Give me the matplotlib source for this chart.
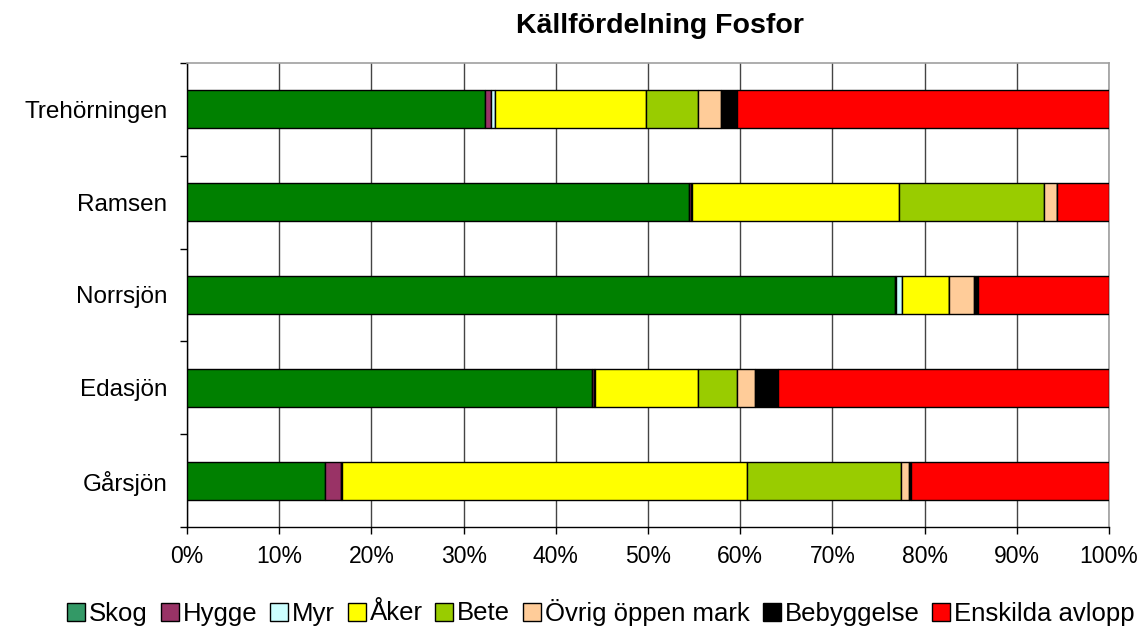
import matplotlib
matplotlib.use("Agg")
import matplotlib.pyplot as plt
from matplotlib.patches import Patch
import numpy as np

lakes = ["Gårsjön", "Edasjön", "Norrsjön", "Ramsen", "Trehörningen"]
sources = ["Skog", "Hygge", "Myr", "Åker", "Bete", "Övrig öppen mark", "Bebyggelse", "Enskilda avlopp"]
# percentages per lake (order of lakes list)
skog = [15.0, 43.9, 76.8, 54.5, 32.3]
hygge = [1.7, 0.2, 0.1, 0.2, 0.7]
myr = [0.1, 0.1, 0.6, 0.1, 0.4]
aker = [43.9, 11.2, 5.1, 22.4, 16.4]
bete = [16.7, 4.2, 0.0, 15.8, 5.6]
ovrig = [0.9, 2.0, 2.8, 1.4, 2.5]
bebyggelse = [0.2, 2.5, 0.4, 0.0, 1.7]
enskilda = [21.5, 35.9, 14.2, 5.6, 40.4]

bar_colors = ["#008000", "#993366", "#CCFFFF", "#FFFF00", "#99CC00", "#FFCC99", "#000000", "#FF0000"]
legend_colors = ["#339966", "#993366", "#CCFFFF", "#FFFF00", "#99CC00", "#FFCC99", "#000000", "#FF0000"]

plt.rcParams['font.family'] = ['Liberation Sans', 'DejaVu Sans']

fig = plt.figure(figsize=(11.45, 6.28), dpi=100)
ax = fig.add_axes([187/1145, 1 - 527/628, (1109 - 187)/1145, (527 - 63)/628])

series = [skog, hygge, myr, aker, bete, ovrig, bebyggelse, enskilda]
y = np.arange(len(lakes))
left = np.zeros(len(lakes))
for vals, col in zip(series, bar_colors):
    v = np.array(vals, dtype=float)
    ax.barh(y, v, left=left, height=0.41, color=col, edgecolor="black", linewidth=1.0, zorder=3)
    left += v

ax.set_xlim(0, 100)
ax.set_ylim(-0.5, len(lakes) - 0.5)
ax.set_xticks(np.arange(0, 101, 10))
ax.set_xticklabels([f"{t}%" for t in range(0, 101, 10)], fontsize=16.5)
ax.set_yticks(y)
ax.set_yticklabels(lakes, fontsize=17.5)
ax.set_yticks(np.arange(-0.5, len(lakes), 1.0), minor=True)
ax.tick_params(axis="y", which="major", length=0, pad=14)
ax.tick_params(axis="y", which="minor", length=5, direction="out", width=1)
ax.tick_params(axis="x", which="major", length=5, direction="out", width=1, pad=8)

ax.grid(axis="x", color="#444444", linewidth=1.0, zorder=0)
ax.set_axisbelow(True)
for s in ["top", "right"]:
    ax.spines[s].set_color("#A0A0A0")
    ax.spines[s].set_linewidth(1.2)
for s in ["left", "bottom"]:
    ax.spines[s].set_color("black")
    ax.spines[s].set_linewidth(1.0)

fig.text(660/1145, 1 - 26/628, "Källfördelning Fosfor", ha="center", va="center",
         fontsize=20.5, fontweight="bold")

handles = [Patch(facecolor=c, edgecolor="black", linewidth=1.0) for c in legend_colors]
fig.legend(handles, sources, loc="center", bbox_to_anchor=(601/1145, 1 - 612/628),
           ncol=len(sources), frameon=False, fontsize=18.5,
           handlelength=0.7, handleheight=0.7, handletextpad=0.15, columnspacing=0.5,
           borderpad=0.0)

fig.savefig("out.png", dpi=100)
